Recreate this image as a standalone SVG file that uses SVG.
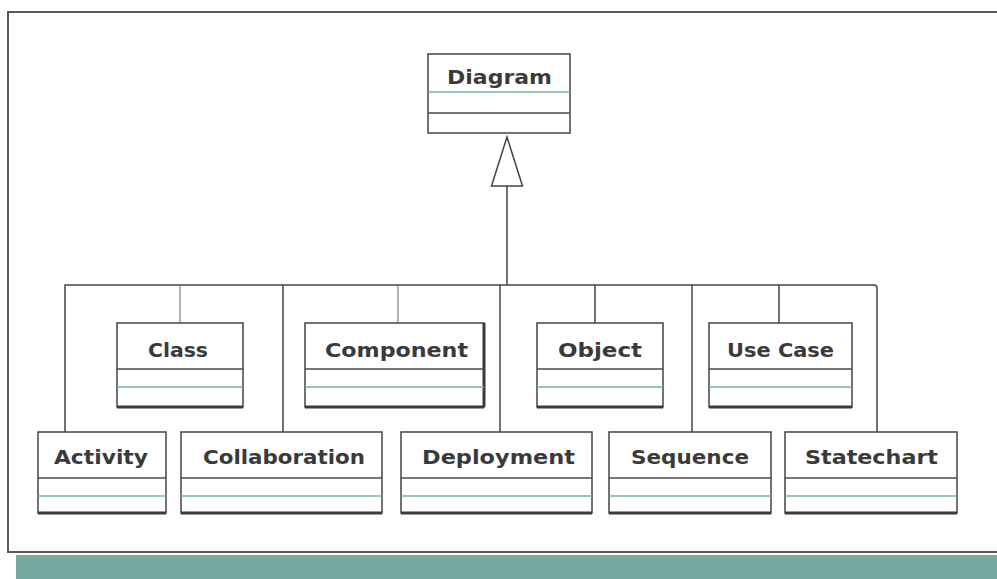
<svg xmlns="http://www.w3.org/2000/svg" width="997" height="579" viewBox="0 0 997 579">
<style>
.frame{fill:none;stroke:#5a5a5a;stroke-width:2}
.box{fill:#fff;stroke:#444;stroke-width:1.5}
.shadow{stroke:#3a3a3a;stroke-width:3}
.sep1{stroke:#4a4a4a;stroke-width:1.5}
.sep2{stroke:#6fb3ad;stroke-width:1.5}
.conn{fill:none;stroke:#444;stroke-width:1.5}
.thin{fill:none;stroke:#666;stroke-width:1}
text{font-family:"DejaVu Sans","Liberation Sans",sans-serif;font-weight:bold;font-size:19px;fill:#3a3a3a;text-anchor:middle}
</style>
<defs>
<marker id="gen" markerUnits="userSpaceOnUse" markerWidth="52" markerHeight="34" refX="49" refY="16.5" orient="auto" viewBox="-1 -1 52 34">
<path d="M0,1 L49,16.5 L0,32 Z" fill="#fff" stroke="#444" stroke-width="1.5"/>
</marker>
</defs>
<rect x="0" y="0" width="997" height="579" fill="#fff"/>
<rect x="16" y="555" width="981" height="24" fill="#76a89f"/>
<path class="frame" d="M997,12 H8 V552 H997"/>
<g id="connectors">
<path class="conn" d="M507,285 V137" marker-end="url(#gen)"/>
<path class="conn" d="M65,432 V285 H874 Q877,285 877,288 V432"/>
<line class="thin" x1="180" y1="285" x2="180" y2="323"/>
<line class="thin" x1="398" y1="285" x2="398" y2="323"/>
<line class="conn" x1="283" y1="285" x2="283" y2="432"/>
<line class="conn" x1="500" y1="285" x2="500" y2="432"/>
<line class="conn" x1="595" y1="285" x2="595" y2="323"/>
<line class="conn" x1="692" y1="285" x2="692" y2="432"/>
<line class="conn" x1="779" y1="285" x2="779" y2="323"/>
</g>
<g id="diagram">
<rect class="box" x="428" y="54" width="142" height="79"/>
<line class="sep2" x1="428" y1="92" x2="570" y2="92"/>
<line class="sep1" x1="428" y1="113" x2="570" y2="113"/>
<text x="499.5" y="84" textLength="105" lengthAdjust="spacingAndGlyphs">Diagram</text>
</g>
<g id="class">
<rect class="box" x="117" y="323" width="126" height="84"/>
<line class="shadow" x1="117" y1="407" x2="243" y2="407"/>
<line class="sep1" x1="117" y1="369" x2="243" y2="369"/>
<line class="sep2" x1="117" y1="387" x2="243" y2="387"/>
<text x="178" y="357" textLength="60" lengthAdjust="spacingAndGlyphs">Class</text>
</g>
<g id="component">
<rect class="box" x="305" y="323" width="179" height="84"/>
<line class="shadow" x1="305" y1="407" x2="484" y2="407"/>
<line class="shadow" x1="484" y1="323" x2="484" y2="407"/>
<line class="sep1" x1="305" y1="369" x2="484" y2="369"/>
<line class="sep2" x1="305" y1="387" x2="484" y2="387"/>
<text x="396.5" y="357" textLength="143" lengthAdjust="spacingAndGlyphs">Component</text>
</g>
<g id="object">
<rect class="box" x="537" y="323" width="126" height="84"/>
<line class="shadow" x1="537" y1="407" x2="663" y2="407"/>
<line class="sep1" x1="537" y1="369" x2="663" y2="369"/>
<line class="sep2" x1="537" y1="387" x2="663" y2="387"/>
<text x="600" y="357" textLength="84" lengthAdjust="spacingAndGlyphs">Object</text>
</g>
<g id="usecase">
<rect class="box" x="709" y="323" width="143" height="84"/>
<line class="shadow" x1="709" y1="407" x2="852" y2="407"/>
<line class="sep1" x1="709" y1="369" x2="852" y2="369"/>
<line class="sep2" x1="709" y1="387" x2="852" y2="387"/>
<text x="780.5" y="357" textLength="107" lengthAdjust="spacingAndGlyphs">Use Case</text>
</g>
<g id="activity">
<rect class="box" x="38" y="432" width="128" height="81"/>
<line class="shadow" x1="38" y1="513" x2="166" y2="513"/>
<line class="sep1" x1="38" y1="478" x2="166" y2="478"/>
<line class="sep2" x1="38" y1="496" x2="166" y2="496"/>
<text x="101" y="464" textLength="94" lengthAdjust="spacingAndGlyphs">Activity</text>
</g>
<g id="collaboration">
<rect class="box" x="181" y="432" width="201" height="81"/>
<line class="shadow" x1="181" y1="513" x2="382" y2="513"/>
<line class="sep1" x1="181" y1="478" x2="382" y2="478"/>
<line class="sep2" x1="181" y1="496" x2="382" y2="496"/>
<text x="284" y="464" textLength="162" lengthAdjust="spacingAndGlyphs">Collaboration</text>
</g>
<g id="deployment">
<rect class="box" x="401" y="432" width="191" height="81"/>
<line class="shadow" x1="401" y1="513" x2="592" y2="513"/>
<line class="sep1" x1="401" y1="478" x2="592" y2="478"/>
<line class="sep2" x1="401" y1="496" x2="592" y2="496"/>
<text x="498.5" y="464" textLength="153" lengthAdjust="spacingAndGlyphs">Deployment</text>
</g>
<g id="sequence">
<rect class="box" x="609" y="432" width="162" height="81"/>
<line class="shadow" x1="609" y1="513" x2="771" y2="513"/>
<line class="sep1" x1="609" y1="478" x2="771" y2="478"/>
<line class="sep2" x1="609" y1="496" x2="771" y2="496"/>
<text x="690" y="464" textLength="118" lengthAdjust="spacingAndGlyphs">Sequence</text>
</g>
<g id="statechart">
<rect class="box" x="785" y="432" width="172" height="81"/>
<line class="shadow" x1="785" y1="513" x2="957" y2="513"/>
<line class="sep1" x1="785" y1="478" x2="957" y2="478"/>
<line class="sep2" x1="785" y1="496" x2="957" y2="496"/>
<text x="871.5" y="464" textLength="133" lengthAdjust="spacingAndGlyphs">Statechart</text>
</g>
</svg>
